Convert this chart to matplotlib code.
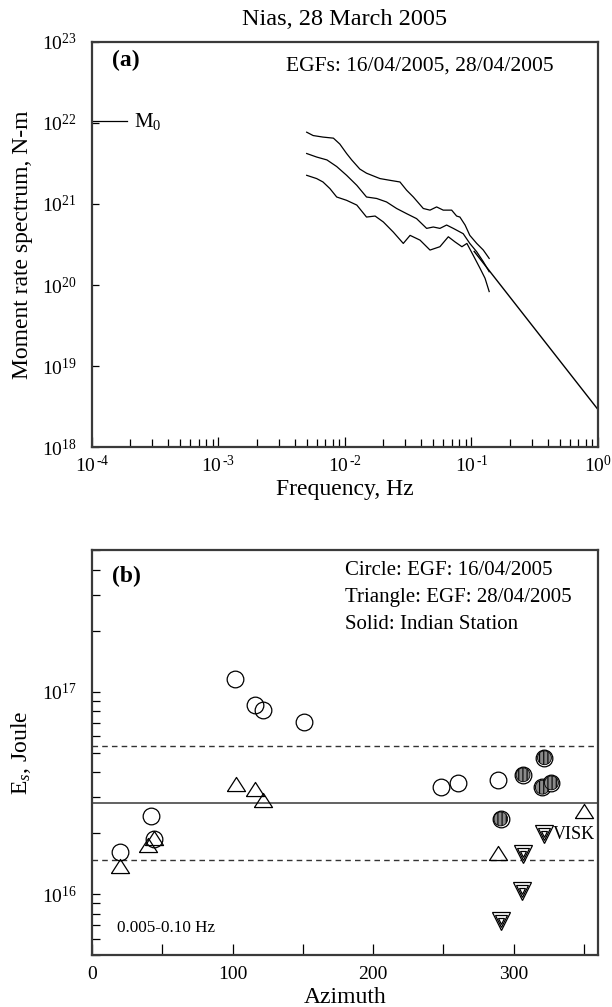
import matplotlib
matplotlib.use("Agg")
import matplotlib.pyplot as plt
import numpy as np
from matplotlib.ticker import FixedLocator, LogLocator, FuncFormatter, NullFormatter

plt.rcParams['font.family'] = ['Liberation Serif', 'DejaVu Serif']
plt.rcParams['mathtext.fontset'] = 'custom'
plt.rcParams['mathtext.rm'] = 'Liberation Serif'
plt.rcParams['mathtext.it'] = 'Liberation Serif:italic'
plt.rcParams['mathtext.bf'] = 'Liberation Serif:bold'
plt.rcParams['hatch.linewidth'] = 0.8

# ---- panel (a): moment rate spectra ----
freq_upper = [4.98e-3, 5.6e-3, 6.7e-3, 8.1e-3, 9.1e-3, 1.03e-2, 1.13e-2, 1.31e-2, 1.48e-2,
              1.89e-2, 2.27e-2, 2.72e-2, 3.07e-2, 3.47e-2, 4.16e-2, 4.70e-2, 5.30e-2,
              5.98e-2, 6.97e-2, 7.63e-2, 8.1e-2, 8.9e-2, 9.7e-2, 0.110, 0.124, 0.138]
spec_upper = [7.7e21, 7.0e21, 6.7e21, 6.5e21, 5.5e21, 4.2e21, 3.5e21, 2.7e21, 2.4e21,
              2.06e21, 1.96e21, 1.87e21, 1.48e21, 1.22e21, 8.8e20, 8.4e20, 9.2e20,
              8.4e20, 8.4e20, 7.1e20, 6.9e20, 5.5e20, 4.1e20, 3.26e20, 2.7e20, 2.13e20]

freq_middle = [4.98e-3, 5.97e-3, 7.2e-3, 8.6e-3, 1.03e-2, 1.24e-2, 1.48e-2, 1.78e-2, 2.13e-2,
               2.56e-2, 3.07e-2, 3.68e-2, 4.42e-2, 4.99e-2, 5.63e-2, 6.36e-2, 7.18e-2,
               8.6e-2, 9.7e-2, 0.110, 0.124, 0.138]
spec_middle = [4.2e21, 3.8e21, 3.5e21, 2.9e21, 2.26e21, 1.70e21, 1.22e21, 1.17e21, 1.06e21,
               8.8e20, 7.6e20, 6.6e20, 5.0e20, 5.2e20, 5.0e20, 5.5e20, 5.0e20,
               4.3e20, 3.26e20, 2.57e20, 1.94e20, 1.46e20]

freq_lower = [4.98e-3, 5.97e-3, 6.7e-3, 7.6e-3, 8.6e-3, 1.03e-2, 1.24e-2, 1.48e-2, 1.73e-2,
              2.01e-2, 2.41e-2, 2.89e-2, 3.27e-2, 3.92e-2, 4.70e-2, 5.63e-2, 6.56e-2,
              7.4e-2, 8.4e-2, 9.2e-2, 0.103, 0.117, 0.128, 0.138]
spec_lower = [2.26e21, 2.06e21, 1.87e21, 1.55e21, 1.22e21, 1.11e21, 9.7e20, 6.9e20, 7.1e20,
              6.0e20, 4.5e20, 3.26e20, 4.1e20, 3.58e20, 2.7e20, 2.97e20, 3.94e20,
              3.41e20, 2.97e20, 3.26e20, 2.34e20, 1.60e20, 1.21e20, 8.3e19]

fit_freq = [0.105, 1.0]
fit_spec = [2.6e20, 2.9e18]

m0_freq = [1e-4, 1.9e-4]
m0_value = 1.05e22

# ---- panel (b): radiated energy vs azimuth ----
az_circle = [20, 41.8, 44.2, 102, 116, 121.4, 151, 248.5, 260.3, 288.9]
es_circle = [1.61e16, 2.43e16, 1.87e16, 1.16e17, 8.6e16, 8.15e16, 7.1e16, 3.37e16, 3.52e16, 3.67e16]

az_circle_ind = [290.8, 306.7, 320.4, 321.9, 326.9]
es_circle_ind = [2.35e16, 3.88e16, 3.37e16, 4.71e16, 3.54e16]

az_tri = [20, 40.1, 44, 102.4, 116, 121.4, 288.9, 350.2]
es_tri = [1.38e16, 1.74e16, 1.9e16, 3.48e16, 3.31e16, 2.9e16, 1.6e16, 2.58e16]

az_tri_ind = [290.8, 305.8, 306.9, 321.9]
es_tri_ind = [7.4e15, 1.03e16, 1.57e16, 1.98e16]

es_mean = 2.83e16
es_bounds = [1.48e16, 5.38e16]

spine_col = '#3a3a3a'


def log_label(v, pos):
    e = int(round(np.log10(v)))
    if e < 0:
        return r'$\mathregular{10^{\,\text{-}%d}}$' % abs(e)
    return r'$\mathregular{10^{%d}}$' % e


def style_spines(ax):
    for s in ax.spines.values():
        s.set_linewidth(1.6)
        s.set_color(spine_col)


fig = plt.figure(figsize=(6.12, 10.07), dpi=100)
ax1 = fig.add_axes([0.1503, 0.5561, 0.8268, 0.4022])
ax2 = fig.add_axes([0.1503, 0.0516, 0.8268, 0.4022])

# panel a
for f, s in [(freq_upper, spec_upper), (freq_middle, spec_middle), (freq_lower, spec_lower)]:
    ax1.loglog(f, s, color='k', lw=0.9)
ax1.loglog(fit_freq, fit_spec, color='k', lw=1.0)
ax1.plot(m0_freq, [m0_value, m0_value], color='k', lw=0.9)
ax1.text(2.15e-4, m0_value, r'M$_0$', fontsize=15, va='center', ha='left')
ax1.set_xlim(1e-4, 1)
ax1.set_ylim(1e18, 1e23)
ax1.xaxis.set_major_locator(LogLocator(base=10, numticks=10))
ax1.xaxis.set_minor_locator(LogLocator(base=10, subs=np.arange(2, 10), numticks=10))
ax1.xaxis.set_major_formatter(FuncFormatter(log_label))
ax1.xaxis.set_minor_formatter(NullFormatter())
ax1.yaxis.set_major_locator(LogLocator(base=10, numticks=10))
ax1.yaxis.set_minor_locator(FixedLocator([]))
ax1.yaxis.set_major_formatter(FuncFormatter(log_label))
ax1.tick_params(axis='both', which='both', direction='in', labelsize=14, color='k', width=0.9)
ax1.tick_params(axis='x', which='major', length=7, pad=6)
ax1.tick_params(axis='x', which='minor', length=6)
ax1.tick_params(axis='y', which='major', length=5, pad=11)
ax1.set_xlabel('Frequency, Hz', fontsize=17)
ax1.set_ylabel('Moment rate spectrum, N-m', fontsize=17)
ax1.xaxis.set_label_coords(0.5, -0.078)
ax1.yaxis.set_label_coords(-0.117, 0.5)
ax1.set_title('Nias, 28 March 2005', fontsize=17.5, pad=12)
ax1.text(0.04, 0.955, '(a)', transform=ax1.transAxes, fontsize=17, fontweight='bold', va='center')
ax1.text(0.383, 0.94, 'EGFs: 16/04/2005, 28/04/2005', transform=ax1.transAxes, fontsize=15.5, va='center')
style_spines(ax1)

# panel b
ax2.set_yscale('log')
ax2.axhline(es_mean, color='#555555', lw=1.3)
for b in es_bounds:
    ax2.axhline(b, color='#333333', lw=1.0, ls=(0, (4, 3)))

tri_path = [(-1, -0.78), (1, -0.78), (0, 0.78), (-1, -0.78)]
ax2.plot(az_circle, es_circle, ls='none', marker='o', ms=12, mfc='none', mec='k', mew=0.9)
ax2.plot(az_tri, es_tri, ls='none', marker=tri_path, ms=13, mfc='none', mec='k', mew=0.9)
ax2.plot(az_circle_ind, es_circle_ind, ls='none', marker='o', ms=12, mfc='white', mec='k', mew=0.9)
ax2.scatter(az_circle_ind, es_circle_ind, s=100, marker='o', facecolor='#8a8a8a', edgecolor='k',
            hatch='||||', linewidths=0.6, zorder=3)
for ms in (13, 9, 5):
    ax2.plot(az_tri_ind, es_tri_ind, ls='none', marker='v', ms=ms, mfc='white', mec='k', mew=0.9)
ax2.text(az_tri_ind[-1] + 6, es_tri_ind[-1], 'VISK', fontsize=13, va='center', ha='left')

ax2.set_xlim(0, 360)
ax2.set_ylim(5e15, 5e17)
ax2.xaxis.set_major_locator(FixedLocator(np.arange(0, 361, 100)))
ax2.xaxis.set_minor_locator(FixedLocator(np.arange(50, 360, 100)))
ax2.yaxis.set_major_locator(LogLocator(base=10, numticks=10))
ax2.yaxis.set_minor_locator(LogLocator(base=10, subs=np.arange(2, 10), numticks=10))
ax2.yaxis.set_major_formatter(FuncFormatter(log_label))
ax2.yaxis.set_minor_formatter(NullFormatter())
ax2.tick_params(axis='both', which='both', direction='in', labelsize=14, color='k', width=0.9)
ax2.tick_params(axis='x', which='both', length=8, pad=8)
ax2.tick_params(axis='y', which='both', length=6, pad=11)
ax2.set_xlabel('Azimuth', fontsize=17)
ax2.set_ylabel(r'E$_s$, Joule', fontsize=17)
ax2.xaxis.set_label_coords(0.5, -0.08)
ax2.yaxis.set_label_coords(-0.117, 0.5)
ax2.text(0.04, 0.935, '(b)', transform=ax2.transAxes, fontsize=17, fontweight='bold', va='center')
ax2.text(0.50, 0.95, 'Circle: EGF: 16/04/2005', transform=ax2.transAxes, fontsize=15, va='center')
ax2.text(0.50, 0.882, 'Triangle: EGF: 28/04/2005', transform=ax2.transAxes, fontsize=15, va='center')
ax2.text(0.50, 0.815, 'Solid: Indian Station', transform=ax2.transAxes, fontsize=15, va='center')
ax2.text(0.05, 0.066, '0.005-0.10 Hz', transform=ax2.transAxes, fontsize=12.3, va='center')
style_spines(ax2)

fig.savefig('out.png', dpi=100)
